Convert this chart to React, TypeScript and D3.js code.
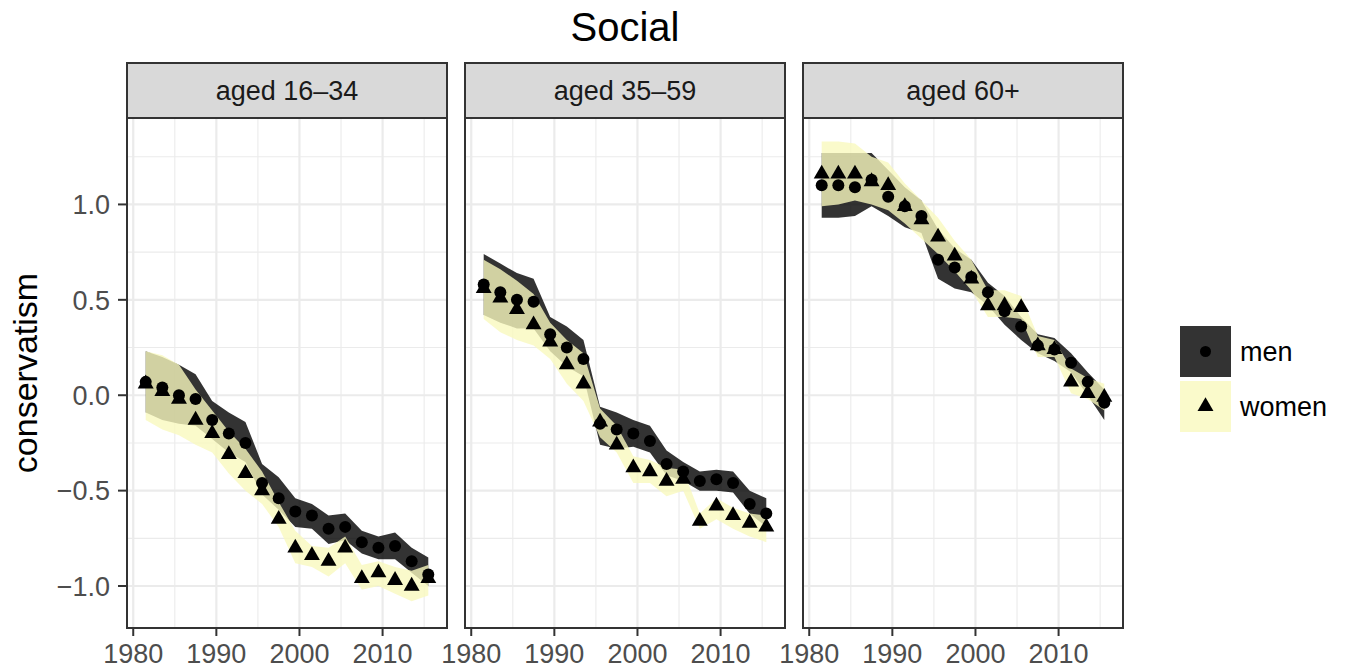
import React from "react";
import * as d3 from "d3";

// survey years (two-year bins)
const years = [1981.5, 1983.5, 1985.5, 1987.5, 1989.5, 1991.5, 1993.5, 1995.5, 1997.5,
  1999.5, 2001.5, 2003.5, 2005.5, 2007.5, 2009.5, 2011.5, 2013.5, 2015.5];

const panelLabels = ["aged 16\u201334", "aged 35\u201359", "aged 60+"];
const sexLabels = ["men", "women"];

const xTicks = [1980, 1990, 2000, 2010];
const xMinorTicks = [1985, 1995, 2005, 2015];
const yTicks = [-1, -0.5, 0, 0.5, 1];
const yMinorTicks = [-0.75, -0.25, 0.25, 0.75, 1.25];

// aged 16-34
const men1634 = [0.07, 0.04, 0.0, -0.02, -0.13, -0.2, -0.25, -0.46, -0.54, -0.61, -0.63, -0.7, -0.69, -0.77, -0.8, -0.79, -0.87, -0.94];
const men1634Hi = [0.23, 0.2, 0.16, 0.11, -0.03, -0.09, -0.14, -0.36, -0.43, -0.54, -0.57, -0.63, -0.62, -0.71, -0.74, -0.72, -0.8, -0.85];
const men1634Lo = [-0.09, -0.13, -0.15, -0.16, -0.23, -0.3, -0.35, -0.52, -0.6, -0.69, -0.7, -0.78, -0.76, -0.83, -0.86, -0.86, -0.93, -1.0];
const women1634 = [0.06, 0.02, -0.02, -0.13, -0.2, -0.31, -0.41, -0.5, -0.65, -0.8, -0.84, -0.87, -0.8, -0.96, -0.93, -0.97, -1.0, -0.96];
const women1634Hi = [0.23, 0.21, 0.16, 0.03, -0.08, -0.19, -0.28, -0.4, -0.56, -0.71, -0.79, -0.8, -0.74, -0.89, -0.87, -0.9, -0.92, -0.89];
const women1634Lo = [-0.13, -0.18, -0.21, -0.26, -0.3, -0.41, -0.5, -0.57, -0.69, -0.88, -0.9, -0.95, -0.88, -1.02, -1.0, -1.04, -1.08, -1.05];

// aged 35-59
const men3559 = [0.58, 0.54, 0.5, 0.49, 0.32, 0.25, 0.19, -0.15, -0.18, -0.2, -0.24, -0.36, -0.4, -0.45, -0.44, -0.46, -0.57, -0.62];
const men3559Hi = [0.74, 0.69, 0.64, 0.61, 0.41, 0.36, 0.29, -0.06, -0.09, -0.13, -0.16, -0.29, -0.35, -0.4, -0.39, -0.4, -0.5, -0.54];
const men3559Lo = [0.42, 0.38, 0.35, 0.35, 0.23, 0.15, 0.1, -0.26, -0.28, -0.27, -0.3, -0.42, -0.45, -0.5, -0.5, -0.51, -0.62, -0.69];
const women3559 = [0.56, 0.51, 0.45, 0.37, 0.28, 0.16, 0.06, -0.14, -0.26, -0.38, -0.4, -0.45, -0.44, -0.66, -0.58, -0.63, -0.67, -0.69];
const women3559Hi = [0.71, 0.66, 0.6, 0.53, 0.38, 0.29, 0.22, -0.07, -0.16, -0.32, -0.34, -0.38, -0.39, -0.62, -0.54, -0.59, -0.62, -0.63];
const women3559Lo = [0.4, 0.33, 0.29, 0.26, 0.19, 0.06, -0.03, -0.22, -0.3, -0.46, -0.46, -0.53, -0.5, -0.7, -0.65, -0.7, -0.74, -0.77];

// aged 60+
const men60 = [1.1, 1.1, 1.09, 1.13, 1.04, 0.99, 0.94, 0.71, 0.67, 0.62, 0.54, 0.44, 0.36, 0.26, 0.24, 0.17, 0.07, -0.04];
const men60Hi = [1.27, 1.27, 1.27, 1.27, 1.18, 1.09, 1.02, 0.87, 0.77, 0.71, 0.59, 0.52, 0.41, 0.32, 0.3, 0.22, 0.12, 0.03];
const men60Lo = [0.93, 0.93, 0.94, 0.99, 0.94, 0.88, 0.85, 0.61, 0.56, 0.54, 0.47, 0.37, 0.29, 0.22, 0.18, 0.12, 0.0, -0.13];
const women60 = [1.16, 1.16, 1.16, 1.12, 1.1, 0.99, 0.92, 0.83, 0.73, 0.61, 0.47, 0.47, 0.46, 0.26, 0.24, 0.07, 0.01, -0.01];
const women60Hi = [1.33, 1.33, 1.32, 1.25, 1.22, 1.11, 1.02, 0.93, 0.81, 0.71, 0.55, 0.55, 0.52, 0.31, 0.29, 0.14, 0.09, 0.06];
const women60Lo = [0.99, 1.0, 1.02, 1.0, 0.97, 0.9, 0.82, 0.74, 0.65, 0.55, 0.41, 0.41, 0.4, 0.2, 0.2, 0.01, -0.02, -0.08];

const panels = [
  { label: panelLabels[0], men: [men1634, men1634Lo, men1634Hi], women: [women1634, women1634Lo, women1634Hi] },
  { label: panelLabels[1], men: [men3559, men3559Lo, men3559Hi], women: [women3559, women3559Lo, women3559Hi] },
  { label: panelLabels[2], men: [men60, men60Lo, men60Hi], women: [women60, women60Lo, women60Hi] },
];

const FONT = "'Liberation Sans', Arial, Helvetica, sans-serif";
const W = 1347;
const H = 669;
const panelLeft = [127, 465, 803];
const panelW = 320;
const stripTop = 63;
const plotTop = 118;
const plotBottom = 628;

const menFill = "rgba(0,0,0,0.8)";
const womenFill = "rgba(249,249,190,0.8)";

const x = d3.scaleLinear().domain([1979.25, 2017.75]).range([0, panelW]);
const y = d3.scaleLinear().domain([-1.22, 1.453]).range([plotBottom, plotTop]);
const fmt = d3.format(".1f");

const area = d3
  .area<number>()
  .x((d, i) => x(years[i]))
  .y0((d) => y(d))
  .y1((d, i) => y(d));

function ribbon(lo: number[], hi: number[]) {
  const a = d3
    .area<number>()
    .x((d, i) => x(years[i]))
    .y0((d, i) => y(lo[i]))
    .y1((d, i) => y(hi[i]));
  return a(lo) || "";
}

const triangle = d3.symbol().type(d3.symbolTriangle).size(110)() || "";

export default function App() {
  void area;
  return (
    <div style={{ position: "absolute", left: 0, top: 0 }}>
      <svg width={W} height={H} style={{ display: "block", background: "#fff" }} fontFamily={FONT}>
        <text x={625} y={41} fontSize={40} textAnchor="middle" fill="#000">Social</text>

        {panels.map((p, pi) => (
          <g key={p.label} transform={`translate(${panelLeft[pi]},0)`}>
            {/* strip */}
            <rect x={0} y={stripTop} width={panelW} height={plotTop - stripTop} fill="#D9D9D9" stroke="#333333" strokeWidth={2} />
            <text x={panelW / 2} y={100} fontSize={27} textAnchor="middle" fill="#1A1A1A">{p.label}</text>

            {/* grid */}
            <rect x={0} y={plotTop} width={panelW} height={plotBottom - plotTop} fill="#fff" />
            {xMinorTicks.map((t) => (
              <line key={"xm" + t} x1={x(t)} x2={x(t)} y1={plotTop} y2={plotBottom} stroke="#EBEBEB" strokeWidth={1.1} />
            ))}
            {yMinorTicks.map((t) => (
              <line key={"ym" + t} x1={0} x2={panelW} y1={y(t)} y2={y(t)} stroke="#EBEBEB" strokeWidth={1.1} />
            ))}
            {xTicks.map((t) => (
              <line key={"x" + t} x1={x(t)} x2={x(t)} y1={plotTop} y2={plotBottom} stroke="#EBEBEB" strokeWidth={2.2} />
            ))}
            {yTicks.map((t) => (
              <line key={"y" + t} x1={0} x2={panelW} y1={y(t)} y2={y(t)} stroke="#EBEBEB" strokeWidth={2.2} />
            ))}

            {/* ribbons */}
            <path d={ribbon(p.men[1], p.men[2])} fill={menFill} />
            <path d={ribbon(p.women[1], p.women[2])} fill={womenFill} />

            {/* points */}
            {p.men[0].map((v, i) => (
              <circle key={"m" + i} cx={x(years[i])} cy={y(v)} r={6} fill="#000" />
            ))}
            {p.women[0].map((v, i) => (
              <path key={"w" + i} d={triangle} transform={`translate(${x(years[i])},${y(v)})`} fill="#000" />
            ))}

            <rect x={0} y={plotTop} width={panelW} height={plotBottom - plotTop} fill="none" stroke="#333333" strokeWidth={2} />

            {/* x axis */}
            {xTicks.map((t) => (
              <g key={"xt" + t}>
                <line x1={x(t)} x2={x(t)} y1={plotBottom} y2={plotBottom + 8} stroke="#333333" strokeWidth={2} />
                <text x={x(t)} y={663} fontSize={27} textAnchor="middle" fill="#4D4D4D">{t}</text>
              </g>
            ))}
          </g>
        ))}

        {/* y axis */}
        {yTicks.map((t) => (
          <g key={"yt" + t}>
            <line x1={118} x2={127} y1={y(t)} y2={y(t)} stroke="#333333" strokeWidth={2} />
            <text x={110} y={y(t)} dy="0.36em" fontSize={27} textAnchor="end" fill="#4D4D4D">{fmt(t)}</text>
          </g>
        ))}
        <text transform={`translate(37,${(plotTop + plotBottom) / 2}) rotate(-90)`} fontSize={34} textAnchor="middle" fill="#000">
          conservatism
        </text>

        {/* legend */}
        {sexLabels.map((s, i) => {
          const ky = 326 + i * 55;
          return (
            <g key={s}>
              <rect x={1180} y={ky} width={51} height={51} fill="#fff" />
              <rect x={1180} y={ky} width={51} height={51} fill={i === 0 ? menFill : womenFill} />
              {i === 0 ? (
                <circle cx={1205.5} cy={ky + 25.5} r={5.5} fill="#000" />
              ) : (
                <path d={triangle} transform={`translate(1205.5,${ky + 25.5})`} fill="#000" />
              )}
              <text x={1240} y={ky + 25.5} dy="0.36em" fontSize={27} fill="#000">{s}</text>
            </g>
          );
        })}
      </svg>
    </div>
  );
}
